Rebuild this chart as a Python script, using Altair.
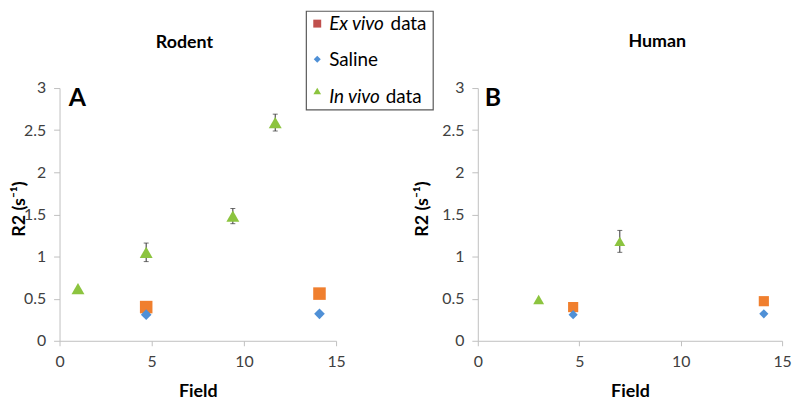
import altair as alt
import pandas as pd

# ---------------- data ----------------
rodent_invivo_field = [1.0, 4.7, 9.4, 11.7]
rodent_invivo_r2 = [0.62, 1.05, 1.48, 2.59]
rodent_invivo_err = [0.0, 0.11, 0.09, 0.10]
rodent_exvivo_field = [4.7, 14.1]
rodent_exvivo_r2 = [0.40, 0.56]
rodent_saline_field = [4.7, 14.1]
rodent_saline_r2 = [0.31, 0.32]

human_invivo_field = [3.0, 7.0]
human_invivo_r2 = [0.49, 1.18]
human_invivo_err = [0.0, 0.13]
human_exvivo_field = [4.7, 14.1]
human_exvivo_r2 = [0.40, 0.47]
human_saline_field = [4.7, 14.1]
human_saline_r2 = [0.31, 0.32]

x_ticks = [0, 5, 10, 15]
y_ticks = [0, 0.5, 1, 1.5, 2, 2.5, 3]

# ---------------- style ----------------
FONT = "Lato"
ORANGE = "#F07F2E"
BLUE = "#4F90D6"
GREEN = "#8CC43F"
RED = "#C0504D"
AXIS_GRAY = "#BFBFBF"
LABEL = "#404040"
ERR = "#333333"

PLOT_H = 255
A_W = 279
B_W = 307
ONE = pd.DataFrame({"k": [0]})


def axes(title_x):
    xax = alt.Axis(values=x_ticks, title="Field", grid=False, domainColor=AXIS_GRAY,
                   tickColor=AXIS_GRAY, tickSize=5, labelFont=FONT, labelFontSize=16,
                   labelColor=LABEL, labelPadding=8, labelFlush=False, titleFont=FONT,
                   titleFontSize=18, titleFontWeight="bold", titleColor="#000000",
                   titleY=51, titleBaseline="middle")
    yax = alt.Axis(values=y_ticks, format="~g", title="R2 (s⁻¹)", grid=False,
                   domainColor=AXIS_GRAY, tickColor=AXIS_GRAY, tickSize=6, labelFont=FONT,
                   labelFontSize=16, labelColor=LABEL, labelPadding=8, labelFlush=False,
                   titleFont=FONT, titleFontSize=18, titleFontWeight="bold",
                   titleColor="#000000", titleX=title_x, titleY=PLOT_H / 2 - 6,
                   titleAngle=270, titleAlign="center", titleBaseline="middle")
    return xax, yax


def panel(inv_f, inv_r, inv_e, ex_f, ex_r, sal_f, sal_r, width, title, title_pos,
          letter, letter_pos, sizes, title_x, legend=False):
    xax, yax = axes(title_x)
    xs = alt.Scale(domain=[0, 15], nice=False)
    ys = alt.Scale(domain=[0, 3], nice=False)

    def X(f):
        return alt.X(f, type="quantitative", scale=xs, axis=xax)

    def Y(f):
        return alt.Y(f, type="quantitative", scale=ys, axis=yax)

    inv = pd.DataFrame({"field": inv_f, "r2": inv_r, "err": inv_e})
    inv["lo"] = inv["r2"] - inv["err"]
    inv["hi"] = inv["r2"] + inv["err"]
    errs = inv[inv["err"] > 0]
    ex = pd.DataFrame({"field": ex_f, "r2": ex_r})
    sal = pd.DataFrame({"field": sal_f, "r2": sal_r})

    layers = [
        alt.Chart(errs).mark_rule(color=ERR, strokeWidth=1).encode(
            x=X("field"), y=Y("lo"), y2="hi"),
        alt.Chart(errs).mark_tick(orient="horizontal", size=5, thickness=1, color=ERR).encode(
            x=X("field"), y=Y("lo")),
        alt.Chart(errs).mark_tick(orient="horizontal", size=5, thickness=1, color=ERR).encode(
            x=X("field"), y=Y("hi")),
        alt.Chart(ex).mark_point(shape="square", filled=True, opacity=1, color=ORANGE,
                                 size=sizes[0]).encode(x=X("field"), y=Y("r2")),
        alt.Chart(sal).mark_point(shape="diamond", filled=True, opacity=1, color=BLUE,
                                  size=sizes[1]).encode(x=X("field"), y=Y("r2")),
        alt.Chart(inv).mark_point(shape="triangle-up", filled=True, opacity=1, color=GREEN,
                                  size=sizes[2]).encode(x=X("field"), y=Y("r2")),
        alt.Chart(ONE).mark_text(font=FONT, fontSize=25, fontWeight="bold", color="#000000",
                                 align="center", baseline="middle").encode(
            x=alt.value(letter_pos[0]), y=alt.value(letter_pos[1]), text=alt.value(letter)),
        alt.Chart(ONE).mark_text(font=FONT, fontSize=18, fontWeight="bold", color="#000000",
                                 align="center", baseline="alphabetic").encode(
            x=alt.value(title_pos[0]), y=alt.value(title_pos[1]), text=alt.value(title)),
    ]

    if legend:
        def txt(s, x, y, style="normal"):
            return alt.Chart(ONE).mark_text(font=FONT, fontSize=19, fontStyle=style,
                                            color="#000000", align="left",
                                            baseline="middle").encode(
                x=alt.value(x), y=alt.value(y), text=alt.value(s))

        def sym(shape, color, size, y):
            return alt.Chart(ONE).mark_point(shape=shape, filled=True, opacity=1,
                                             color=color, size=size).encode(
                x=alt.value(260), y=alt.value(y))

        layers += [
            alt.Chart(ONE).mark_point(shape="square", filled=True, opacity=1, color="white",
                                      size=1).encode(x=alt.value(-51.5), y=alt.value(0)),
            alt.Chart(ONE).mark_rect(fill="white", stroke="#595959", strokeWidth=1.2).encode(
                x=alt.value(249), x2=alt.value(377), y=alt.value(-77.5), y2=alt.value(22)),
            sym("square", RED, 64, -65),
            sym("diamond", BLUE, 50, -29),
            sym("triangle-up", GREEN, 60, 3),
            txt("Ex vivo", 272, -65, "italic"),
            txt("data", 334, -65),
            txt("Saline", 272, -28),
            txt("In vivo", 272, 9, "italic"),
            txt("data", 329, 9),
        ]

    return alt.layer(*layers).properties(width=width, height=PLOT_H)


panel_a = panel(rodent_invivo_field, rodent_invivo_r2, rodent_invivo_err,
                rodent_exvivo_field, rodent_exvivo_r2, rodent_saline_field, rodent_saline_r2,
                A_W, "Rodent", (126, -40), "A", (18, 10.5), (160, 115, 170), -40, legend=True)

panel_b = panel(human_invivo_field, human_invivo_r2, human_invivo_err,
                human_exvivo_field, human_exvivo_r2, human_saline_field, human_saline_r2,
                B_W, "Human", (181, -41), "B", (15.3, 10.5), (105, 85, 120), -56)

chart = alt.hconcat(panel_a, panel_b, spacing=143, bounds="flush").properties(
    padding={"left": 0, "top": 0, "right": 0, "bottom": 0}
).configure_view(stroke=None)

chart.save("out.html", embed_options={"renderer": "svg", "actions": False})
